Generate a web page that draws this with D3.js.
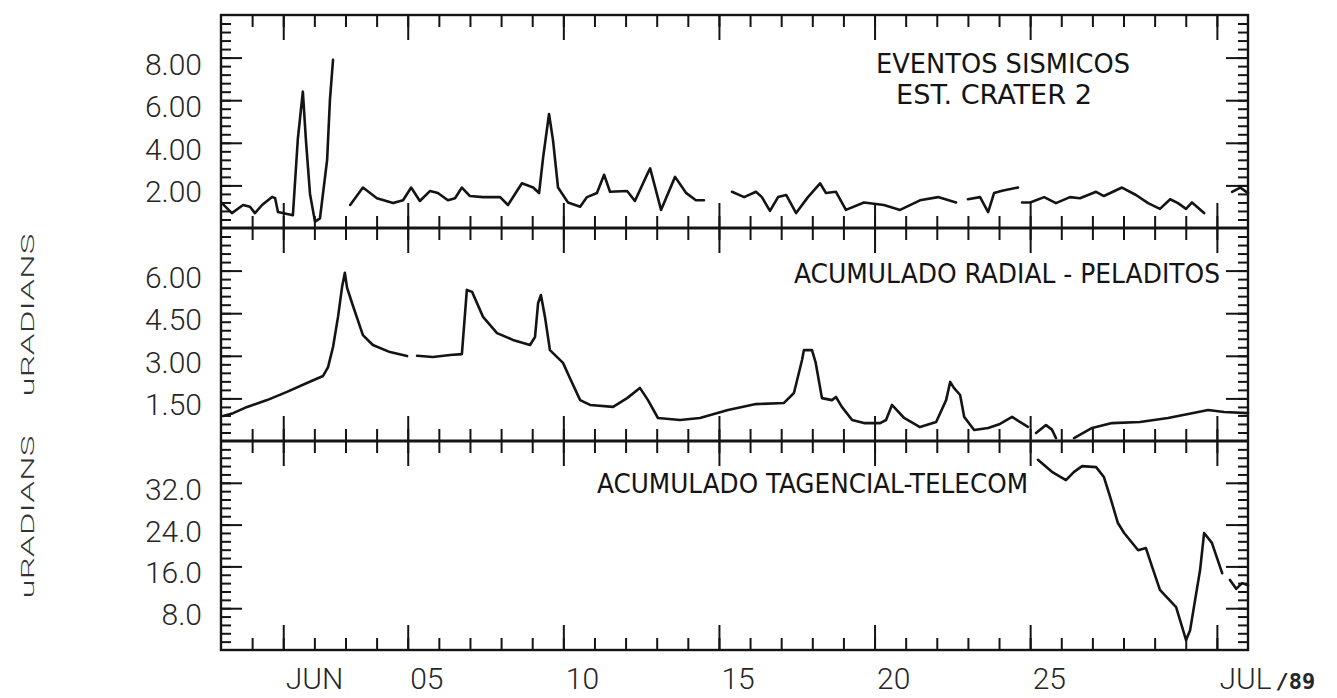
<!DOCTYPE html>
<html>
<head>
<meta charset="utf-8">
<script src="https://cdn.jsdelivr.net/npm/d3@7"></script>
<style>
  body { margin: 0; background: #fff; }
  svg { display: block; }
</style>
</head>
<body>
<div id="chart"></div>
<script>
// days are counted as "day of June": 0 = May 31, 31 = July 1
const minorDays = d3.range(0, 32);
const majorDays = [1, 5, 10, 15, 20, 25, 31];
const dayLabels = ["JUN", "05", "10", "15", "20", "25", "JUL"];

const sismoTicks = [2, 4, 6, 8];
const radialTicks = [1.5, 3, 4.5, 6];
const tangTicks = [8, 16, 24, 32];

const axisTitle = "uRADIANS";

// [day, value]; null breaks the line
const sismos = [
  [-0.97, 1.17], [-0.65, 0.70], [-0.29, 1.08], [-0.07, 1.00], [0.09, 0.70], [0.32, 1.08],
  [0.64, 1.46], [0.74, 1.40], [0.83, 0.75], [1.31, 0.60], [1.47, 4.20], [1.63, 6.40],
  [1.73, 4.10], [1.86, 1.60], [2.02, 0.30], [2.18, 0.45], [2.41, 3.20], [2.50, 6.00], [2.60, 7.90],
  null,
  [3.15, 1.08], [3.56, 1.90], [4.01, 1.40], [4.53, 1.17], [4.85, 1.30], [5.11, 1.90],
  [5.39, 1.27], [5.72, 1.74], [5.97, 1.64], [6.29, 1.30], [6.52, 1.40], [6.74, 1.90],
  [7.00, 1.50], [7.42, 1.45], [7.97, 1.45], [8.22, 1.08], [8.67, 2.10], [9.03, 1.90],
  [9.22, 1.64], [9.35, 3.30], [9.54, 5.35], [9.67, 4.10], [9.83, 1.90], [10.15, 1.20],
  [10.54, 1.00], [10.76, 1.45], [11.08, 1.64], [11.31, 2.50], [11.50, 1.70], [12.05, 1.74],
  [12.30, 1.27], [12.72, 2.60], [12.79, 2.80], [13.14, 0.85], [13.59, 2.40], [13.94, 1.65],
  [14.26, 1.30], [14.52, 1.30],
  null,
  [15.42, 1.70], [15.81, 1.45], [16.19, 1.70], [16.38, 1.45], [16.64, 0.80], [16.90, 1.45],
  [17.16, 1.55], [17.48, 0.70], [17.86, 1.45], [18.25, 2.10], [18.44, 1.64], [18.76, 1.70],
  [19.08, 0.85], [19.66, 1.20], [20.30, 1.08], [20.82, 0.85], [21.46, 1.30], [22.04, 1.45],
  [22.62, 1.20],
  null,
  [23.00, 1.35], [23.39, 1.45], [23.65, 0.75], [23.84, 1.64], [24.10, 1.75], [24.61, 1.90],
  null,
  [24.74, 1.20], [25.00, 1.20], [25.45, 1.45], [25.83, 1.17], [26.28, 1.45], [26.60, 1.40],
  [27.12, 1.70], [27.37, 1.50], [27.95, 1.90], [28.40, 1.55], [28.79, 1.17], [29.17, 0.90],
  [29.50, 1.35], [29.75, 1.17], [30.01, 0.90], [30.20, 1.20], [30.59, 0.70],
  null,
  [31.49, 1.70], [31.75, 1.90], [32.00, 1.64]
];

const radial = [
  [-0.93, 0.88], [-0.61, 0.98], [-0.16, 1.20], [0.48, 1.44], [1.12, 1.73], [1.76, 2.04],
  [2.28, 2.29], [2.44, 2.60], [2.60, 3.31], [2.76, 4.37], [2.89, 5.42], [2.98, 5.92],
  [3.05, 5.40], [3.21, 4.86], [3.56, 3.73], [3.88, 3.38], [4.43, 3.13], [4.98, 2.99],
  null,
  [5.30, 3.00], [5.81, 2.96], [6.36, 3.03], [6.74, 3.06], [6.90, 5.32], [7.07, 5.25],
  [7.42, 4.37], [7.87, 3.80], [8.38, 3.56], [8.93, 3.38], [9.09, 3.66], [9.19, 4.86],
  [9.28, 5.14], [9.41, 4.37], [9.57, 3.20], [9.99, 2.75], [10.21, 2.22], [10.54, 1.44],
  [10.86, 1.27], [11.60, 1.20], [12.05, 1.51], [12.46, 1.87], [12.72, 1.44], [13.04, 0.81],
  [13.75, 0.74], [14.39, 0.81], [15.29, 1.09], [16.19, 1.30], [17.09, 1.34], [17.41, 1.69],
  [17.67, 2.85], [17.73, 3.20], [17.99, 3.20], [18.11, 2.75], [18.31, 1.51], [18.63, 1.44],
  [18.76, 1.55], [18.95, 1.20], [19.28, 0.74], [19.66, 0.63], [20.18, 0.63], [20.37, 0.74],
  [20.56, 1.27], [20.95, 0.81], [21.46, 0.49], [21.98, 0.67], [22.30, 1.44], [22.43, 2.08],
  [22.55, 1.87], [22.75, 1.62], [22.88, 0.85], [23.20, 0.39], [23.65, 0.46], [24.03, 0.60],
  [24.42, 0.85], [24.67, 0.67], [24.93, 0.50],
  null,
  [25.19, 0.28], [25.51, 0.56], [25.70, 0.40], [25.83, 0.10],
  null,
  [26.41, 0.10], [26.99, 0.46], [27.63, 0.63], [28.53, 0.67], [29.43, 0.81], [30.20, 0.98],
  [30.72, 1.09], [31.23, 1.02], [32.00, 0.98]
];

const tangencial = [
  [25.25, 36.4], [25.70, 34.1], [26.15, 32.5], [26.41, 34.1], [26.67, 35.2], [27.12, 35.0],
  [27.37, 33.1], [27.57, 29.3], [27.82, 24.3], [28.02, 22.4], [28.47, 19.1], [28.72, 19.5],
  [28.92, 15.9], [29.17, 11.5], [29.69, 8.2], [30.01, 1.9], [30.14, 3.8], [30.46, 15.3],
  [30.59, 22.4], [30.84, 20.5], [31.17, 14.7],
  null,
  [31.42, 13.4], [31.62, 11.7], [31.81, 12.8], [32.00, 12.4]
];

const width = 1337, height = 698;
const left = 221, right = 1248;
const ink = "#141414";
const numFont = "Roboto, 'Liberation Sans', sans-serif";
const titleFont = "'Liberation Sans Narrow', 'DejaVu Sans Condensed', 'Liberation Sans', sans-serif";

const toDate = d => new Date(Date.UTC(1989, 5, 1) + (d - 1) * 864e5);

const svg = d3.select("#chart").append("svg")
  .attr("width", width).attr("height", height);

const x = d3.scaleUtc().domain([toDate(-1), toDate(32)]).range([left, right]);

const panels = [
  { top: 15, bottom: 228, max: 10, minor: 0.4, ticks: sismoTicks, fmt: d3.format(".2f"), data: sismos,
    titles: [{ text: "EVENTOS SISMICOS", x: 876, y: 73, len: 254 }, { text: "EST. CRATER 2", x: 896, y: 104, len: 196 }] },
  { top: 228, bottom: 441, max: 7.5, minor: 0.3, ticks: radialTicks, fmt: d3.format(".2f"), data: radial,
    titles: [{ text: "ACUMULADO RADIAL - PELADITOS", x: 794, y: 283, len: 426 }] },
  { top: 441, bottom: 650, max: 40, minor: 1.6, ticks: tangTicks, fmt: d3.format(".1f"), data: tangencial,
    titles: [{ text: "ACUMULADO TAGENCIAL-TELECOM", x: 597, y: 493, len: 431 }] }
];

panels.forEach(p => {
  const y = d3.scaleLinear().domain([0, p.max]).range([p.bottom, p.top]);
  const minorVals = d3.range(p.minor, p.max - 1e-6, p.minor);

  const g = svg.append("g").attr("class", "panel");

  // day ticks on top and bottom edges, pointing inward
  [[d3.axisTop, p.top], [d3.axisBottom, p.bottom]].forEach(([ax, yy]) => {
    g.append("g").attr("transform", `translate(0,${yy})`)
      .call(ax(x).tickValues(minorDays.map(toDate)).tickSize(-12).tickFormat(""));
    g.append("g").attr("transform", `translate(0,${yy})`)
      .call(ax(x).tickValues(majorDays.map(toDate)).tickSize(-25).tickFormat(""));
  });

  // value ticks, left with labels, right without
  g.append("g").attr("transform", `translate(${left},0)`)
    .call(d3.axisLeft(y).tickValues(minorVals).tickSize(-10).tickFormat(""));
  const yl = g.append("g").attr("transform", `translate(${left},0)`)
    .call(d3.axisLeft(y).tickValues(p.ticks).tickSize(-21).tickPadding(19).tickFormat(p.fmt));
  yl.selectAll("text")
    .attr("dy", "0.55em")
    .attr("fill", "#262626")
    .style("font-family", numFont)
    .style("font-weight", 300)
    .style("font-size", "30px");

  g.append("g").attr("transform", `translate(${right},0)`)
    .call(d3.axisRight(y).tickValues(minorVals).tickSize(-10).tickFormat(""));
  g.append("g").attr("transform", `translate(${right},0)`)
    .call(d3.axisRight(y).tickValues(p.ticks).tickSize(-22).tickFormat(""));

  // series line
  const line = d3.line()
    .defined(d => d !== null)
    .x(d => x(toDate(d[0])))
    .y(d => y(d[1]));

  g.append("path")
    .datum(p.data)
    .attr("fill", "none")
    .attr("stroke", ink)
    .attr("stroke-width", 2.6)
    .attr("stroke-linejoin", "round")
    .attr("stroke-linecap", "round")
    .attr("d", line);

  // panel titles
  p.titles.forEach(t => {
    g.append("text")
      .attr("x", t.x).attr("y", t.y)
      .attr("textLength", t.len)
      .attr("lengthAdjust", "spacingAndGlyphs")
      .attr("fill", ink)
      .style("font-family", titleFont)
      .style("font-size", "27px")
      .text(t.text);
  });
});

// clean axis domains and style ticks
svg.selectAll(".domain").remove();
svg.selectAll(".tick line").attr("stroke", ink).attr("stroke-width", 2);

// frame and panel separators
svg.append("rect")
  .attr("x", left).attr("y", 15)
  .attr("width", right - left).attr("height", 650 - 15)
  .attr("fill", "none").attr("stroke", ink).attr("stroke-width", 2.4);
[228, 441].forEach(yy => {
  svg.append("line")
    .attr("x1", left).attr("x2", right).attr("y1", yy).attr("y2", yy)
    .attr("stroke", ink).attr("stroke-width", 3);
});

// day labels at the bottom
const xl = svg.append("g").attr("transform", "translate(0,650)")
  .call(d3.axisBottom(x).tickValues(majorDays.map(toDate)).tickSize(0).tickPadding(18)
    .tickFormat((d, i) => dayLabels[i]));
xl.select(".domain").remove();
xl.selectAll("text")
  .attr("text-anchor", "start")
  .attr("dx", 2)
  .attr("fill", "#262626")
  .style("font-family", numFont)
  .style("font-weight", 300)
  .style("font-size", "30px");
xl.selectAll("text").filter((d, i) => i === majorDays.length - 1)
  .append("tspan")
  .attr("dx", 4)
  .style("font-family", "'DejaVu Sans Mono', monospace")
  .style("font-weight", 700)
  .style("font-size", "22px")
  .text("/89");

// y axis titles
[315, 517].forEach(cy => {
  svg.append("text")
    .attr("transform", `translate(34,${cy}) rotate(-90)`)
    .attr("text-anchor", "middle")
    .attr("textLength", 163)
    .attr("lengthAdjust", "spacingAndGlyphs")
    .attr("fill", "#333")
    .style("font-family", numFont)
    .style("font-weight", 300)
    .style("font-size", "19px")
    .text(axisTitle);
});
</script>
</body>
</html>
